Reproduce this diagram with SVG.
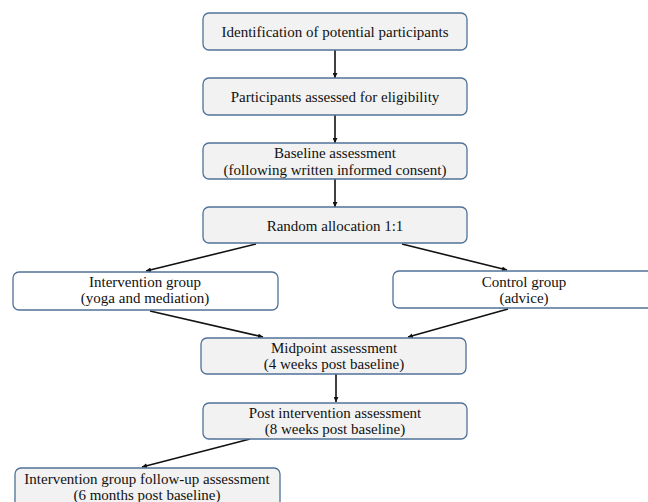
<svg xmlns="http://www.w3.org/2000/svg" width="648" height="502" viewBox="0 0 648 502">
<defs>
<marker id="ah" viewBox="0 0 10 10" refX="10" refY="5" markerWidth="5" markerHeight="5" orient="auto" markerUnits="userSpaceOnUse">
<path d="M0,0 L10,5 L0,10 z" fill="#111"/>
</marker>
<style>
.box{fill:#f2f2f2;stroke:#4f7199;stroke-width:1.3}
.wbox{fill:#ffffff;stroke:#4f7199;stroke-width:1.3}
text{font-family:"Liberation Serif","Times New Roman",serif;font-size:15px;fill:#111;text-anchor:middle}
.c{stroke:#111;stroke-width:1.6;fill:none;marker-end:url(#ah)}
</style>
</defs>
<rect width="648" height="502" fill="#ffffff"/>
<g id="connectors">
<line class="c" x1="335" y1="50" x2="335" y2="78"/>
<line class="c" x1="335" y1="115" x2="335" y2="143"/>
<line class="c" x1="335" y1="179" x2="335" y2="207"/>
<line class="c" x1="256" y1="244" x2="146" y2="271"/>
<line class="c" x1="402" y1="244" x2="507" y2="270"/>
<line class="c" x1="150" y1="311" x2="263" y2="337"/>
<line class="c" x1="508" y1="309" x2="408" y2="337"/>
<line class="c" x1="336" y1="374" x2="336" y2="402"/>
<line class="c" x1="250" y1="439" x2="142" y2="467"/>
</g>
<g id="n1">
<rect class="box" x="203" y="13" width="264" height="37" rx="6"/>
<text x="335" y="37">Identification of potential participants</text>
</g>
<g id="n2">
<rect class="box" x="203" y="78" width="264" height="37" rx="6"/>
<text x="335" y="102">Participants assessed for eligibility</text>
</g>
<g id="n3">
<rect class="box" x="203" y="143" width="264" height="36" rx="6"/>
<text x="335" y="158">Baseline assessment</text>
<text x="335" y="175">(following written informed consent)</text>
</g>
<g id="n4">
<rect class="box" x="203" y="207" width="264" height="36" rx="6"/>
<text x="335" y="231">Random allocation 1:1</text>
</g>
<g id="n5">
<rect class="wbox" x="13" y="272" width="265" height="38" rx="6"/>
<text x="145" y="287">Intervention group</text>
<text x="145" y="303">(yoga and mediation)</text>
</g>
<g id="n6">
<rect class="wbox" x="393" y="271" width="262" height="37" rx="6"/>
<text x="524" y="287">Control group</text>
<text x="524" y="303">(advice)</text>
</g>
<g id="n7">
<rect class="box" x="201" y="338" width="265" height="36" rx="6"/>
<text x="334" y="353">Midpoint assessment</text>
<text x="334" y="369">(4 weeks post baseline)</text>
</g>
<g id="n8">
<rect class="box" x="203" y="403" width="264" height="36" rx="6"/>
<text x="335" y="418">Post intervention assessment</text>
<text x="335" y="434">(8 weeks post baseline)</text>
</g>
<g id="n9">
<rect class="box" x="15" y="468" width="265" height="40" rx="6"/>
<text x="147" y="484">Intervention group follow-up assessment</text>
<text x="147" y="500">(6 months post baseline)</text>
</g>
</svg>
